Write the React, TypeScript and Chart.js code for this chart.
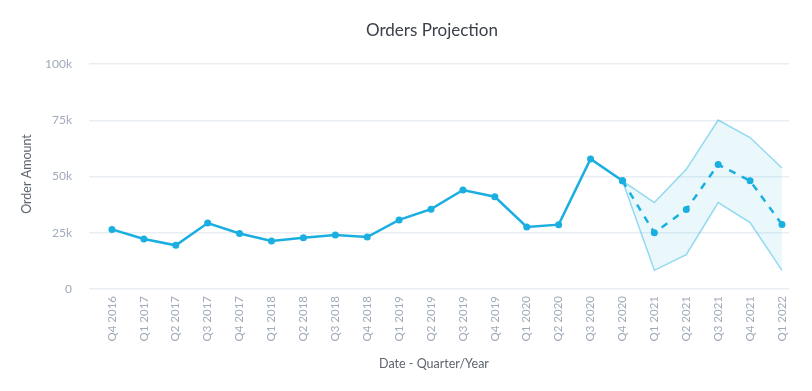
import React, { useEffect, useRef } from "react";
import { Chart, registerables } from "chart.js";

Chart.register(...registerables);

const quarters = [
  "Q4 2016", "Q1 2017", "Q2 2017", "Q3 2017", "Q4 2017", "Q1 2018", "Q2 2018", "Q3 2018",
  "Q4 2018", "Q1 2019", "Q2 2019", "Q3 2019", "Q4 2019", "Q1 2020", "Q2 2020", "Q3 2020",
  "Q4 2020", "Q1 2021", "Q2 2021", "Q3 2021", "Q4 2021", "Q1 2022",
];

const actual: (number | null)[] = [
  26500, 22200, 19400, 29300, 24700, 21300, 22800, 24000, 23100, 30700, 35500, 44000,
  41000, 27600, 28600, 57800, 48100, null, null, null, null, null,
];

const projection: (number | null)[] = [
  null, null, null, null, null, null, null, null, null, null, null, null,
  null, null, null, null, 48100, 25000, 35300, 55300, 48100, 28700,
];

const upperBound: (number | null)[] = [
  null, null, null, null, null, null, null, null, null, null, null, null,
  null, null, null, null, 48100, 38400, 53200, 75100, 67300, 53800,
];

const lowerBound: (number | null)[] = [
  null, null, null, null, null, null, null, null, null, null, null, null,
  null, null, null, null, 48100, 8300, 15300, 38400, 29500, 8300,
];

const yTicks = [0, 25000, 50000, 75000, 100000];
const yTickLabels = ["0", "25k", "50k", "75k", "100k"];

const chartTitle = "Orders Projection";
const xTitle = "Date - Quarter/Year";
const yTitle = "Order Amount";

const toPoints = (arr: (number | null)[]) => arr.map((y, x) => ({ x, y }));

const BLUE = "#1aafe0";
const BAND_LINE = "rgba(26,175,224,0.45)";
const BAND_FILL = "rgba(26,175,224,0.09)";
const TICK = "#a0aab8";
const FONT = "Lato, 'Noto Sans', sans-serif";

const titlesPlugin = {
  id: "titlesPlugin",
  afterDraw(chart: any) {
    const ctx = chart.ctx;
    ctx.save();
    ctx.textAlign = "center";
    ctx.textBaseline = "middle";
    ctx.fillStyle = "#3b4049";
    ctx.font = `17px ${FONT}`;
    ctx.fillText(chartTitle, 432, 31);
    ctx.fillStyle = "#5d6470";
    ctx.font = `12.5px ${FONT}`;
    ctx.fillText(xTitle, 434, 364);
    ctx.translate(27, 174);
    ctx.rotate(-Math.PI / 2);
    ctx.fillText(yTitle, 0, 0);
    ctx.restore();
  },
};

export default function App() {
  const ref = useRef<HTMLCanvasElement | null>(null);
  useEffect(() => {
    if (!ref.current) return;
    const chart = new Chart(ref.current, {
      type: "line",
      plugins: [titlesPlugin],
      data: {
        datasets: [
          {
            label: "Upper",
            data: toPoints(upperBound),
            borderColor: BAND_LINE,
            borderWidth: 1.5,
            pointRadius: 0,
            fill: false,
            tension: 0,
          },
          {
            label: "Lower",
            data: toPoints(lowerBound),
            borderColor: BAND_LINE,
            borderWidth: 1.5,
            pointRadius: 0,
            backgroundColor: BAND_FILL,
            fill: "-1",
            tension: 0,
          },
          {
            label: "Projection",
            data: toPoints(projection),
            borderColor: BLUE,
            backgroundColor: BLUE,
            borderWidth: 2.5,
            borderDash: [7, 7],
            pointRadius: 3.5,
            pointBorderWidth: 0,
            fill: false,
            tension: 0,
          },
          {
            label: "Orders",
            data: toPoints(actual),
            borderColor: BLUE,
            backgroundColor: BLUE,
            borderWidth: 2.5,
            pointRadius: 3.5,
            pointBorderWidth: 0,
            fill: false,
            tension: 0,
          },
        ],
      },
      options: {
        animation: false,
        responsive: false,
        maintainAspectRatio: false,
        layout: { padding: { left: 0, right: 23, top: 64, bottom: 0 } },
        plugins: {
          legend: { display: false },
          tooltip: { enabled: false },
          title: { display: false },
        },
        scales: {
          x: {
            type: "linear",
            min: -0.72,
            max: 21.22,
            grid: { display: false, drawTicks: false },
            border: { display: false },
            afterBuildTicks: (axis: any) => {
              axis.ticks = quarters.map((_, i) => ({ value: i }));
            },
            afterFit: (axis: any) => {
              axis.height = 102;
            },
            ticks: {
              autoSkip: false,
              minRotation: 90,
              maxRotation: 90,
              color: TICK,
              padding: 7,
              font: { family: FONT, size: 11.5 },
              callback: (v: any) => quarters[Math.round(Number(v))] ?? "",
            },
          },
          y: {
            min: 0,
            max: 100000,
            afterBuildTicks: (axis: any) => {
              axis.ticks = yTicks.map((v) => ({ value: v }));
            },
            afterFit: (axis: any) => {
              axis.width = 89;
            },
            grid: { color: "#e9eef3", lineWidth: 1.5, drawTicks: false },
            border: { display: false },
            ticks: {
              color: TICK,
              padding: 17,
              font: { family: FONT, size: 12 },
              callback: (v: any) => yTickLabels[yTicks.indexOf(Number(v))] ?? "",
            },
          },
        },
      },
    });
    return () => chart.destroy();
  }, []);
  return (
    <div style={{ position: "fixed", left: 0, top: 0, width: 812, height: 391, background: "#fff" }}>
      <canvas ref={ref} width={812} height={391} style={{ width: 812, height: 391 }} />
    </div>
  );
}
